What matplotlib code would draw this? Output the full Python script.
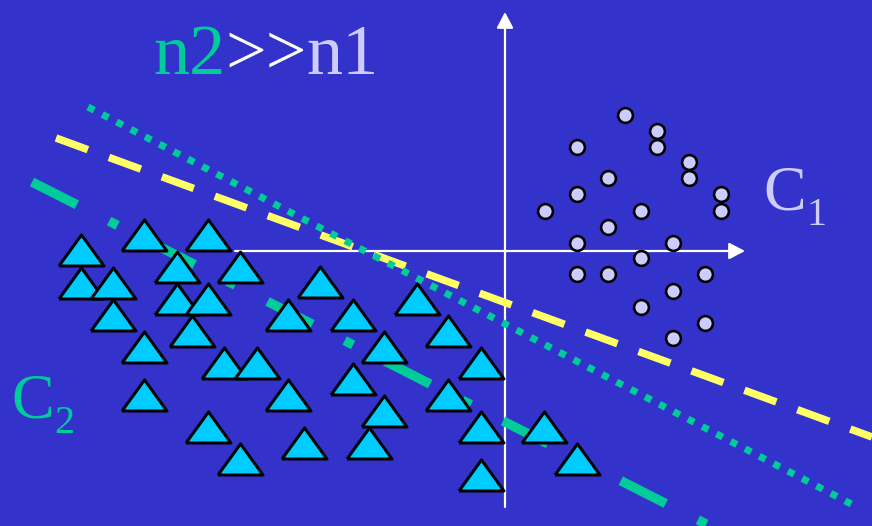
import matplotlib.pyplot as plt
import numpy as np

# class C1 (circles), pixel positions
c1_x = [625, 657, 657, 577, 689, 689, 608, 577, 721, 721, 545, 641,
        608, 577, 673, 641, 577, 608, 705, 673, 641, 705, 673]
c1_y = [115, 131, 147, 147, 162, 178, 178, 194, 194, 211, 211, 211,
        227, 243, 243, 258, 274, 274, 274, 291, 307, 323, 338]

# class C2 (triangles)
c2_x = [81, 144, 208, 81, 113, 177, 240, 113, 177, 208, 192, 144,
        224, 257, 144, 208, 240, 288, 320, 353, 417, 448, 384, 481,
        353, 288, 448, 384, 481, 544, 304, 369, 577, 481]
c2_y = [250, 234.5, 234.5, 283, 283, 266.5, 266.5, 315, 299, 299, 331, 347,
        363, 363, 394.5, 427, 458.5, 314.5, 282, 314.5, 298.5, 330.5, 346.5, 362.5,
        379, 394.5, 394.5, 410.5, 427, 427, 443, 443, 459, 474.5]

# decision boundaries (start / end points)
yellow_x = [56, 872]
yellow_y = [138, 437]
dotted_x = [88, 857]
dotted_y = [107, 507]
dashdot_x = [32, 710]
dashdot_y = [182, 526]

# axes arrows
vaxis_x = [505, 505]
vaxis_y = [507, 12]
haxis_x = [235, 745]
haxis_y = [251, 251]

bg = '#3333CC'
teal = '#00CC99'
lav = '#CCCCFF'
serif = 'Liberation Serif'

fig = plt.figure(figsize=(8.72, 5.26), dpi=100)
fig.patch.set_facecolor(bg)
ax = fig.add_axes([0, 0, 1, 1])
ax.set_xlim(0, 872)
ax.set_ylim(526, 0)
ax.axis('off')

px = 0.72  # points per pixel

arrow = dict(arrowstyle='-|>,head_length=0.42,head_width=0.22', color='white',
             lw=2.2 * px, mutation_scale=23, shrinkA=0, shrinkB=0)
ax.annotate('', xy=(vaxis_x[1], vaxis_y[1]), xytext=(vaxis_x[0], vaxis_y[0]),
            arrowprops=arrow, zorder=1)
ax.annotate('', xy=(haxis_x[1], haxis_y[1]), xytext=(haxis_x[0], haxis_y[0]),
            arrowprops=arrow, zorder=1)

l1, = ax.plot(yellow_x, yellow_y, color='#FFFF66', lw=7.5 * px, zorder=2)
l1.set_dashes([4.53, 2.99])
l1.set_dash_capstyle('butt')
l2, = ax.plot(dotted_x, dotted_y, color=teal, lw=7 * px, zorder=2)
l2.set_dashes([1.0, 1.3])
l2.set_dash_capstyle('butt')
l3, = ax.plot(dashdot_x, dashdot_y, color=teal, lw=9.5 * px, zorder=2)
l3.set_dashes([5.3, 3.8, 1.0, 3.8])
l3.set_dash_capstyle('butt')

tri = [(-1, -0.69), (1, -0.69), (0, 0.69), (-1, -0.69)]
ax.scatter(c2_x, c2_y, marker=tri, s=(45 * px) ** 2, c='#00CCFF',
           edgecolors='black', linewidths=3 * px, zorder=3)
ax.scatter(c1_x, c1_y, marker='o', s=(14.8 * px) ** 2, c=lav,
           edgecolors='black', linewidths=2.6 * px, zorder=4)

# title n2>>n1
t1 = ax.text(153, 74, 'n2', color=teal, fontsize=52, family=serif, va='baseline')
t2 = ax.annotate('>>', xy=(1, 0), xycoords=t1, color='white', fontsize=52,
                 family=serif, va='bottom')
ax.annotate('n1', xy=(1, 0), xycoords=t2, color=lav, fontsize=52,
            family=serif, va='bottom')

# class labels
ax.text(763, 210, 'C', color=lav, fontsize=46, family=serif, va='baseline')
ax.text(816, 225, '1', color=lav, fontsize=29, family=serif, va='baseline', ha='center')
ax.text(11, 417, 'C', color=teal, fontsize=46, family=serif, va='baseline')
ax.text(64.5, 433, '2', color=teal, fontsize=29, family=serif, va='baseline', ha='center')

fig.savefig('out.png', dpi=100, facecolor=fig.get_facecolor())
